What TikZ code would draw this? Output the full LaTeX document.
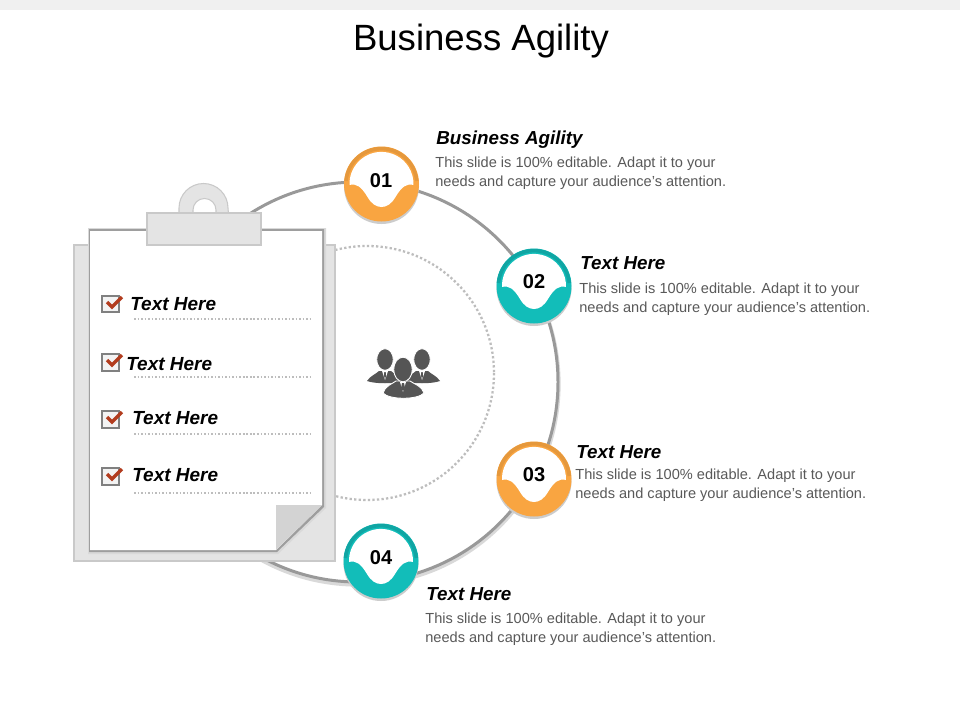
\documentclass[tikz,border=0pt]{standalone}
\usepackage{fontspec}
\setmainfont{Liberation Sans}
\definecolor{orangefill}{HTML}{F9A541}
\definecolor{orangeband}{HTML}{E5983C}
\definecolor{tealfill}{HTML}{12BDB9}
\definecolor{tealband}{HTML}{10A5A3}
\definecolor{boardgray}{HTML}{E4E4E4}
\definecolor{edgegray}{HTML}{C9C9C9}
\definecolor{foldgray}{HTML}{D3D3D3}
\definecolor{dotgray}{HTML}{BDBDBD}
\definecolor{bodygray}{HTML}{595959}
\definecolor{iconGray}{HTML}{555555}
\definecolor{checkred}{HTML}{B23C1E}
\tikzset{
  titletext/.style = {inner sep = 0, font = \fontsize{20.8}{24}\selectfont},
  headtext/.style = {anchor = west, inner sep = 0, font = \fontsize{10.7}{12}\selectfont\bfseries\itshape},
  listtext/.style = {anchor = west, inner sep = 0, font = \fontsize{10.8}{12}\selectfont\bfseries\itshape},
  bodytext/.style = {anchor = north west, inner sep = 0, align = left, text = bodygray, font = \fontsize{8.3}{10.5}\selectfont},
  numtext/.style = {inner sep = 0, font = \fontsize{11.4}{13}\selectfont\bfseries},
  dotline/.style = {dotgray, line width = 0.9pt, dash pattern = on 0.9pt off 1.1pt},
  checkbox/.style = {draw = gray, line width = 0.6pt, fill = boardgray!45},
  checkmark/.style = {checkred, line width = 2pt},
  person/.style = {fill = iconGray, draw = white, line width = 0.5pt},
  pics/bubble/.style 2 args = {code = {
    \fill[black!20] (0, 2.5) circle (37.5);
    \fill[#1] (0, 0) circle (37.5);
    \draw[#2, line width = 2pt] (-35.5, -3) arc (185:355:35.5);
    \fill[white] (-32, 1) arc (178:362:32) .. controls (25, -1) and (20, 3) .. (14, 13)
      .. controls (10, 20) and (5, 23) .. (0, 23) .. controls (-5, 23) and (-10, 20) .. (-14, 13)
      .. controls (-20, 3) and (-25, -1) .. cycle;
  }}
}
\begin{document}
\begin{tikzpicture}[x = 0.02cm, y = -0.02cm]
\useasboundingbox (0, 0) rectangle (960, 720);
\fill[white] (0, 0) rectangle (960, 720);
\fill[black!6] (0, 0) rectangle (960, 10);
\node[titletext] (title) at (481, 41) {Business Agility};

\draw[draw = black!15, line width = 3pt] (358, 384) circle (200);
\draw[draw = black!40, fill = white, line width = 1.7pt] (358, 382) circle (200);
\draw[dotline, line width = 1.3pt, dash pattern = on 1.3pt off 1.3pt] (367, 373) circle (127);

\draw[draw = edgegray, fill = boardgray, line width = 0.6pt] (74, 245) rectangle (335, 561);
\fill[black!15] (88, 228) -- (326, 228) -- (326, 508) -- (278, 554) -- (88, 554) -- cycle;
\fill[black!38] (89, 229) -- (324, 229) -- (324, 507) -- (277, 552) -- (89, 552) -- cycle;
\fill[white] (90, 231) -- (322, 231) -- (322, 505) -- (276, 550) -- (90, 550) -- cycle;
\fill[foldgray] (276, 505) -- (322, 505) -- (276, 550) -- cycle;

\draw[draw = edgegray, fill = boardgray, line width = 0.6pt]
  (179, 214) -- (179, 208) arc (180:360:24.5) -- (228.5, 214) -- (216, 214) -- (216, 210) arc (360:180:11.5) -- (193, 214) -- cycle;
\draw[draw = edgegray, fill = boardgray, line width = 0.6pt] (147, 213) rectangle (261, 245);

\draw[checkbox] (102, 296) rectangle (119, 312);
\draw[checkbox] (102, 354) rectangle (119, 371);
\draw[checkbox] (102, 411) rectangle (119, 428);
\draw[checkbox] (102, 468) rectangle (119, 485);
\draw[checkmark] (107, 302) -- (112, 307) -- (122, 297);
\draw[checkmark] (107, 360) -- (112, 365) -- (122, 355);
\draw[checkmark] (107, 417) -- (112, 422) -- (122, 412);
\draw[checkmark] (107, 474) -- (112, 479) -- (122, 469);

\node[listtext] (item1) at (130, 304) {Text Here};
\node[listtext] (item2) at (126, 364) {Text Here};
\node[listtext] (item3) at (132, 418) {Text Here};
\node[listtext] (item4) at (132, 475) {Text Here};

\draw[dotline] (134, 319) -- (312, 319);
\draw[dotline] (134, 377) -- (312, 377);
\draw[dotline] (134, 434) -- (312, 434);
\draw[dotline] (134, 493) -- (312, 493);

\fill[iconGray] (367, 381) .. controls (370, 376) and (376, 374) .. (379, 371) -- (391, 371) .. controls (394, 374) and (400, 376) .. (403, 381) .. controls (395, 384) and (375, 384) .. cycle;
\fill[iconGray] (404, 381) .. controls (407, 376) and (413, 374) .. (416, 371) -- (428, 371) .. controls (431, 374) and (437, 376) .. (440, 381) .. controls (432, 384) and (412, 384) .. cycle;
\draw[person] (385, 359.5) ellipse (8.3 and 10.8);
\draw[person] (422, 359.5) ellipse (8.3 and 10.8);
\fill[white] (382, 371) -- (388, 371) -- (385, 380) -- cycle;
\fill[iconGray] (384.3, 372) -- (385.7, 372) -- (386, 376) -- (385, 379) -- (384, 376) -- cycle;
\fill[white] (419, 371) -- (425, 371) -- (422, 380) -- cycle;
\fill[iconGray] (421.3, 372) -- (422.7, 372) -- (423, 376) -- (422, 379) -- (421, 376) -- cycle;
\draw[person] (383, 393) .. controls (385, 386) and (392, 384) .. (396, 381) -- (410, 381) .. controls (414, 384) and (422, 386) .. (424, 393) .. controls (418, 400) and (389, 400) .. cycle;
\draw[person] (403, 369.5) ellipse (9.3 and 12.3);
\fill[white] (400, 382) -- (406, 382) -- (403, 392) -- cycle;
\fill[iconGray] (402, 383) -- (404, 383) -- (405, 388) -- (403, 391) -- (401, 388) -- cycle;

\path (381.5, 184) pic {bubble = {orangefill}{orangeband}};
\path (534, 286) pic {bubble = {tealfill}{tealband}};
\path (534, 479) pic {bubble = {orangefill}{orangeband}};
\path (381, 561) pic {bubble = {tealfill}{tealband}};

\node[numtext] (num1) at (381, 181) {01};
\node[numtext] (num2) at (534, 282) {02};
\node[numtext] (num3) at (534, 475) {03};
\node[numtext] (num4) at (381, 558) {04};

\node[headtext] (head1) at (436, 140) {Business Agility};
\node[headtext] (head2) at (580, 263) {Text Here};
\node[headtext] (head3) at (576, 452) {Text Here};
\node[headtext] (head4) at (426, 594) {Text Here};

\node[bodytext] (body1) at (435, 157) {This slide is 100\% editable. Adapt it to your\\needs and capture your audience's attention.};
\node[bodytext] (body2) at (579, 283) {This slide is 100\% editable. Adapt it to your\\needs and capture your audience's attention.};
\node[bodytext] (body3) at (575, 469) {This slide is 100\% editable. Adapt it to your\\needs and capture your audience's attention.};
\node[bodytext] (body4) at (425, 613) {This slide is 100\% editable. Adapt it to your\\needs and capture your audience's attention.};
\end{tikzpicture}
\end{document}
